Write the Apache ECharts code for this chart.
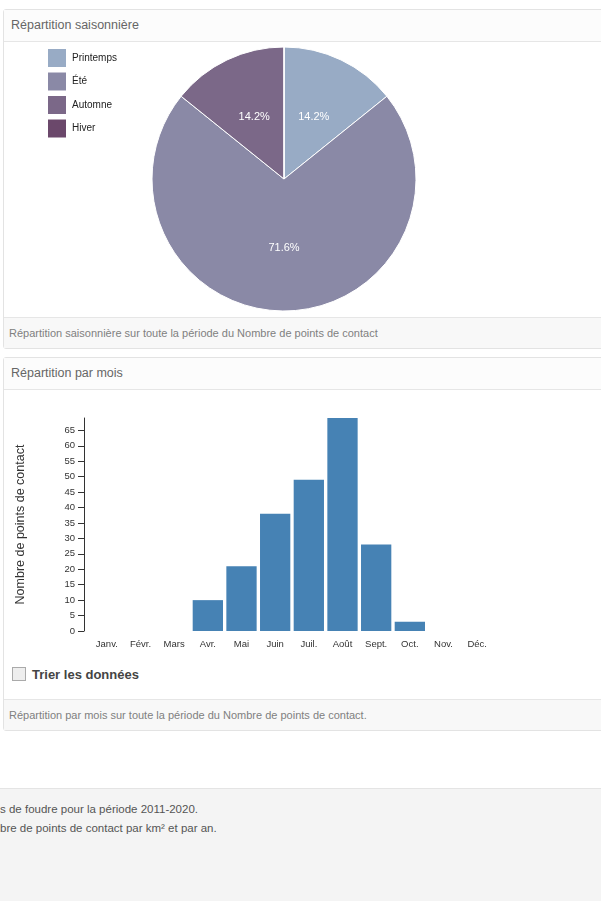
<!DOCTYPE html>
<html>
<head>
<meta charset="utf-8">
<script src="https://cdn.jsdelivr.net/npm/echarts@6/dist/echarts.min.js"></script>
<style>
    body { margin: 0; width: 601px; height: 901px; overflow: hidden; background: #fff;
        font-family: "Liberation Sans", Arial, sans-serif; position: relative; }
    .panel { position: absolute; left: 3px; width: 640px; border: 1px solid #e3e3e3; border-radius: 3px; background: #fff; }
    .panel-heading { height: 31px; line-height: 31px; padding-left: 7px; font-size: 12.5px; color: #666;
        border-bottom: 1px solid #e6e6e6; background: #fcfcfc; }
    .panel-footer { position: absolute; left: 0; right: 0; bottom: 0; height: 30px; line-height: 30px;
        padding-left: 5px; font-size: 11px; color: #808080; background: #f8f8f8; border-top: 1px solid #e6e6e6; }
    .chart { position: absolute; left: 0; }
    #sort { position: absolute; left: 12px; top: 667px; font-size: 13px; font-weight: bold; color: #444; }
    #sort span { display: inline-block; width: 12px; height: 12px; border: 1px solid #aaa; background: #eee;
        vertical-align: -2px; margin-right: 6px; }
    #legendBox { position: absolute; left: 0; top: 788px; width: 601px; height: 113px; background: #f4f4f4;
        border-top: 1px solid #e4e4e4; font-size: 11.5px; color: #555; line-height: 19px; padding-top: 11px; }
</style>
</head>
<body>

<div class="panel" style="top: 9px; height: 338px;">
    <div class="panel-heading">Répartition saisonnière</div>
    <div class="panel-footer">Répartition saisonnière sur toute la période du Nombre de points de contact</div>
</div>
<div class="panel" style="top: 357px; height: 372px;">
    <div class="panel-heading">Répartition par mois</div>
    <div class="panel-footer">Répartition par mois sur toute la période du Nombre de points de contact.</div>
</div>

<div id="pieChart" class="chart" style="top: 41px; width: 601px; height: 276px;"></div>
<div id="barChart" class="chart" style="top: 391px; width: 601px; height: 270px;"></div>

<div id="sort"><span></span>Trier les données</div>

<div id="legendBox">
    <div>s de foudre pour la période 2011-2020.</div>
    <div>bre de points de contact par km² et par an.</div>
</div>

<script>
    // données
    var seasons = ['Printemps', 'Été', 'Automne', 'Hiver'];
    var seasonValues = [31, 156, 31, 0];
    var seasonColors = ['#98abc5', '#8a89a6', '#7b6888', '#6b486b'];

    var months = ['Janv.', 'Févr.', 'Mars', 'Avr.', 'Mai', 'Juin', 'Juil.', 'Août', 'Sept.', 'Oct.', 'Nov.', 'Déc.'];
    var monthValues = [0, 0, 0, 10, 21, 38, 49, 69, 28, 3, 0, 0];

    var font = 'Liberation Sans';

    echarts.init(document.getElementById('pieChart')).setOption({
        animation: false,
        color: seasonColors,
        legend: {
            orient: 'vertical',
            left: 46,
            top: 6,
            padding: 0,
            itemWidth: 20,
            itemHeight: 20,
            itemGap: 1.5,
            icon: 'rect',
            data: seasons,
            textStyle: { fontSize: 10, color: '#222', fontFamily: font }
        },
        series: [
            {
                type: 'pie',
                center: [284, 138],
                radius: 132,
                startAngle: 90,
                percentPrecision: 1,
                itemStyle: { borderColor: '#fff', borderWidth: 1 },
                label: {
                    position: 'inside',
                    color: '#fff',
                    fontSize: 11,
                    fontFamily: font,
                    formatter: function (p) {
                        return p.value ? p.percent + '%' : '';
                    }
                },
                labelLine: { show: false },
                emphasis: { disabled: true },
                data: seasons.map(function (s, i) {
                    return { name: s, value: seasonValues[i] };
                })
            }
        ]
    });

    echarts.init(document.getElementById('barChart')).setOption({
        animation: false,
        grid: { left: 90, right: 107, top: 27, bottom: 30 },
        xAxis: {
            type: 'category',
            data: months,
            axisLine: { show: false },
            axisTick: { alignWithLabel: true, length: 4, lineStyle: { color: '#222' } },
            axisLabel: { fontSize: 9.5, color: '#333', margin: 8, fontFamily: font }
        },
        yAxis: {
            type: 'value',
            min: 0,
            max: 69,
            interval: 5,
            offset: 6,
            name: 'Nombre de points de contact',
            nameLocation: 'middle',
            nameRotate: 90,
            nameGap: 57,
            nameTextStyle: { fontSize: 12.5, color: '#333', fontFamily: font },
            splitLine: { show: false },
            axisLine: { show: true, lineStyle: { color: '#333' } },
            axisTick: { show: true, length: 6, lineStyle: { color: '#333' } },
            axisLabel: { fontSize: 9.5, color: '#333', margin: 9, showMaxLabel: false, fontFamily: font }
        },
        series: [
            {
                type: 'bar',
                data: monthValues,
                barCategoryGap: '10%',
                itemStyle: { color: '#4682b4' },
                emphasis: { disabled: true }
            }
        ]
    });
</script>
</body>
</html>
